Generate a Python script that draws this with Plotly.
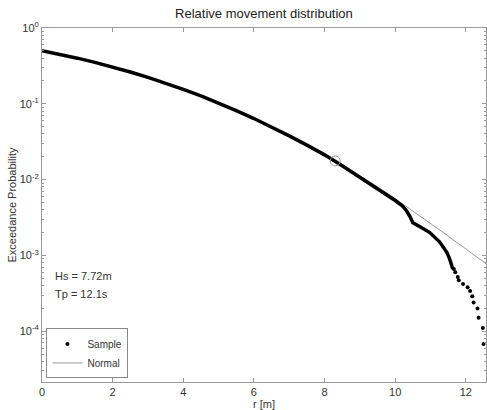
import plotly.graph_objects as go

# Sample exceedance curve (dense part)
sample_r = [0.0, 0.5, 1.0, 1.5, 2.0, 2.5, 3.0, 3.5, 4.0, 4.5, 5.0, 5.5, 6.0, 6.5, 7.0,
            7.5, 8.0, 8.5, 9.0, 9.5, 10.0, 10.2, 10.3, 10.41, 10.5, 10.69, 10.98,
            11.26, 11.46, 11.54, 11.63]
sample_p = [0.50, 0.449, 0.400, 0.352, 0.306, 0.263, 0.223, 0.187, 0.155, 0.127, 0.102,
            0.0814, 0.0639, 0.0495, 0.0378, 0.0285, 0.0212, 0.0152, 0.0108, 0.0076,
            0.0053, 0.0045, 0.0040, 0.0033, 0.0027, 0.0024, 0.0020, 0.0015, 0.0011,
            0.0009, 0.00066]
# Sparse tail of the sample
tail_r = [11.66, 11.70, 11.77, 11.80, 11.92, 12.05, 12.12, 12.18, 12.22, 12.33, 12.36,
          12.48, 12.50]
tail_p = [6.6e-4, 6.0e-4, 5.2e-4, 4.7e-4, 4.2e-4, 3.8e-4, 3.4e-4, 2.9e-4, 2.4e-4,
          2.0e-4, 1.5e-4, 1.1e-4, 6.8e-5]
# Normal fit line
normal_r = [8.3, 8.8, 9.3, 9.8, 10.3, 10.8, 11.3, 11.8, 12.3, 12.6]
normal_p = [0.0176, 0.0128, 0.0092, 0.0065, 0.0045, 0.0031, 0.0021, 0.00142, 0.00095, 0.00076]
# Marked point
mark_r = [8.3]
mark_p = [0.0176]

ytick_vals = [1, 0.1, 0.01, 0.001, 0.0001]
ytick_text = ["10<sup>0</sup>", "10<sup>-1</sup>", "10<sup>-2</sup>", "10<sup>-3</sup>", "10<sup>-4</sup>"]
xtick_vals = [0, 2, 4, 6, 8, 10, 12]

fig = go.Figure()
fig.add_trace(go.Scatter(x=normal_r, y=normal_p, mode="lines",
                         line=dict(color="#999999", width=1), name="Normal", showlegend=False))
fig.add_trace(go.Scatter(x=sample_r, y=sample_p, mode="lines",
                         line=dict(color="black", width=3.5), showlegend=False, name="Sample"))
fig.add_trace(go.Scatter(x=tail_r, y=tail_p, mode="markers",
                         marker=dict(color="black", size=4), name="Sample"))
fig.add_trace(go.Scatter(x=[None], y=[None], mode="lines",
                         line=dict(color="#999999", width=1), name="Normal"))
fig.add_trace(go.Scatter(x=mark_r, y=mark_p, mode="markers",
                         marker=dict(symbol="circle-open", size=10, color="#999999",
                                     line=dict(width=1)), showlegend=False))

axcol = "#999999"
fig.update_layout(
    width=487, height=410,
    margin=dict(l=42, r=1, t=28, b=28),
    paper_bgcolor="white", plot_bgcolor="white",
    font=dict(family="Liberation Sans, Arial, sans-serif", size=10, color="#333333"),
    title=dict(text="Relative movement distribution", x=0.542, xanchor="center",
               y=0.967, yanchor="middle", font=dict(size=13, color="#222222")),
    showlegend=True,
    legend=dict(x=0.01, y=0.01, xanchor="left", yanchor="bottom",
                bordercolor="#888888", borderwidth=1, bgcolor="white",
                font=dict(size=10, color="#333333"), tracegroupgap=0,
                itemwidth=30),
    xaxis=dict(range=[0, 12.57], tickvals=xtick_vals, ticks="inside", ticklen=4,
               tickcolor=axcol, showline=True, linecolor=axcol, linewidth=1,
               mirror="ticks", showgrid=False, zeroline=False,
               tickfont=dict(size=11, color="#333333"),
               title=dict(text="r [m]", font=dict(size=11), standoff=2)),
    yaxis=dict(type="log", range=[-4.67, 0], tickvals=ytick_vals, ticktext=ytick_text,
               ticks="inside", ticklen=4, tickcolor=axcol, showline=True,
               linecolor=axcol, linewidth=1, mirror="ticks", showgrid=False,
               zeroline=False, tickfont=dict(size=11, color="#333333"),
               minor=dict(ticks="inside", ticklen=2, tickcolor=axcol, dtick="D1", showgrid=False),
               title=dict(text="Exceedance Probability", font=dict(size=11), standoff=0)),
    annotations=[
        dict(text="Hs = 7.72m", x=0.025, y=0.30, xref="paper", yref="paper",
             xanchor="left", yanchor="middle", showarrow=False, font=dict(size=11)),
        dict(text="Tp = 12.1s", x=0.025, y=0.25, xref="paper", yref="paper",
             xanchor="left", yanchor="middle", showarrow=False, font=dict(size=11)),
    ],
)

fig.write_html("out.html")
